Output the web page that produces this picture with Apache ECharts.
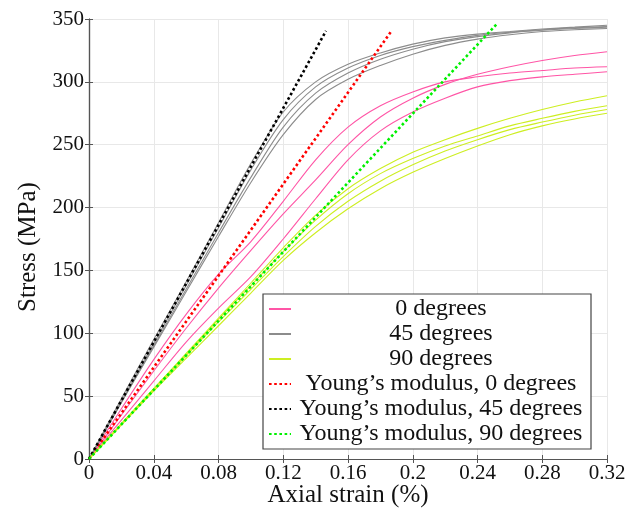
<!DOCTYPE html>
<html>
<head>
<meta charset="utf-8">
<script src="https://cdn.jsdelivr.net/npm/echarts@6/dist/echarts.min.js"></script>
<style>
  html, body { margin: 0; padding: 0; background: #fff; }
  #chart { width: 639px; height: 514px; }
</style>
</head>
<body>
<div id="chart"></div>
<script>
// strain (%) sample points shared by all measured curves
const strain = [0, 0.02, 0.04, 0.06, 0.08, 0.10, 0.12, 0.14, 0.16, 0.18, 0.20, 0.22, 0.24, 0.26, 0.28, 0.30, 0.32]

// 0 degrees specimens (MPa)
const deg0 = [
  [0, 35, 70, 104, 136, 166, 195, 222, 250, 272, 287, 298, 306, 312, 317, 321, 324],
  [0, 40, 79, 115, 147, 173, 205, 238, 264, 281, 292, 300, 304, 307, 309, 311, 312],
  [0, 31, 62, 93, 120, 145, 175, 207, 238, 261, 276, 287, 296, 301, 304, 306, 308]
]
// 45 degrees specimens
const deg45 = [
  [0, 48, 95, 141, 188, 235, 276, 300, 314, 323, 330, 335, 338, 340, 342, 343.5, 345],
  [0, 46, 92, 138, 184, 230, 270, 296, 311, 321, 328, 333, 337, 339.5, 341.5, 343, 344],
  [0, 45, 90, 135, 180, 224, 264, 291, 307, 318, 326, 332, 336, 339, 341, 342.5, 343.5],
  [0, 45, 89, 133, 177, 220, 258, 286, 302, 313, 322, 329, 334, 337.5, 340, 341.5, 342.5]
]
// 90 degrees specimens
const deg90 = [
  [0, 28, 56, 84, 112, 140, 168, 194, 215, 231, 244, 254, 263, 271, 278, 284, 289],
  [0, 28, 56, 83, 111, 138, 165, 190, 211, 227, 239, 249, 257, 265, 271, 276.5, 281],
  [0, 28, 55, 82, 109, 135, 161, 185, 205, 221, 234, 245, 254, 262, 268, 273.5, 278],
  [0, 27, 54, 80, 106, 132, 158, 180, 199, 215, 228, 239, 249, 258, 265, 270.5, 275]
]
// Young's modulus fits: [strain, stress] end points
const young0 = [[0, 0], [0.1866, 340]]
const young45 = [[0, 0], [0.1464, 340.5]]
const young90 = [[0, 0], [0.2519, 346]]

const legendNames = ['0 degrees', '45 degrees', '90 degrees',
  'Young’s modulus, 0 degrees', 'Young’s modulus, 45 degrees', 'Young’s modulus, 90 degrees']

const font = 'Liberation Serif'
const ink = '#111'
const pink = '#ff55a6'
const gray = '#8c8c8c'
const yellow = '#cdee22'

const pairs = ys => ys.map((v, i) => [strain[i], v])

const curve = (name, color, ys) => ({
  name, type: 'line', data: pairs(ys), showSymbol: false, symbol: 'none',
  smooth: 0.3, lineStyle: { color, width: 1.1 }, itemStyle: { color }, silent: true
})
const dotted = (name, color, data) => ({
  name, type: 'line', data, showSymbol: false, symbol: 'none', z: 5,
  lineStyle: { color, width: 2.6, type: [2.6, 2.6], cap: 'butt' }, itemStyle: { color }, silent: true
})

const series = [
  ...deg0.map(d => curve(legendNames[0], pink, d)),
  ...deg45.map(d => curve(legendNames[1], gray, d)),
  ...deg90.map(d => curve(legendNames[2], yellow, d)),
  dotted(legendNames[3], '#ff0000', young0),
  dotted(legendNames[4], '#000000', young45),
  dotted(legendNames[5], '#00f000', young90)
]

const axisLine = { show: true, lineStyle: { color: '#555', width: 1.2 } }
const tick = { show: true, inside: true, length: 4, lineStyle: { color: '#555' } }

const chart = echarts.init(document.getElementById('chart'))
chart.setOption({
  animation: false,
  grid: { left: 89, right: 32, top: 19, bottom: 55, outerBoundsMode: 'none', containLabel: false },
  xAxis: [{
    type: 'value', min: 0, max: 0.32, interval: 0.04,
    name: 'Axial strain (%)', nameLocation: 'middle', nameGap: 24, nameMoveOverlap: false,
    nameTextStyle: { fontFamily: font, fontSize: 25, color: ink },
    axisLine, axisTick: tick,
    axisLabel: { fontFamily: font, fontSize: 21, color: ink, margin: 4,
      formatter: v => String(+v.toFixed(2)) },
    splitLine: { show: true, lineStyle: { color: '#e8e8e8' } }
  }, {
    type: 'value', min: 0, max: 0.32, interval: 0.04, position: 'top',
    axisLine, axisTick: tick, axisLabel: { show: false }, splitLine: { show: false }
  }],
  yAxis: [{
    type: 'value', min: 0, max: 350, interval: 50,
    name: 'Stress (MPa)', nameLocation: 'middle', nameGap: 48, nameMoveOverlap: false,
    nameTextStyle: { fontFamily: font, fontSize: 25, color: ink, padding: [0, 16, 0, 0] },
    axisLine, axisTick: tick,
    axisLabel: { fontFamily: font, fontSize: 21, color: ink, margin: 5 },
    splitLine: { show: true, lineStyle: { color: '#e8e8e8' } }
  }, {
    type: 'value', min: 0, max: 350, interval: 50, position: 'right',
    axisLine, axisTick: tick, axisLabel: { show: false }, splitLine: { show: false }
  }],
  legend: {
    data: legendNames, orient: 'vertical', left: 263, top: 294,
    itemWidth: 22, itemHeight: 20, itemGap: 1, padding: [3, 5, 3, 5],
    backgroundColor: '#fff', borderColor: '#444', borderWidth: 1.2, borderRadius: 0,
    selectedMode: false,
    itemStyle: { opacity: 0 },
    textStyle: {
      fontFamily: font, fontSize: 24, color: ink, width: 290, lineHeight: 20,
      rich: { c: { fontFamily: font, fontSize: 24, color: ink, lineHeight: 20, align: 'center' } }
    },
    formatter: name => '{c|' + name + '}'
  },
  series
})
</script>
</body>
</html>
